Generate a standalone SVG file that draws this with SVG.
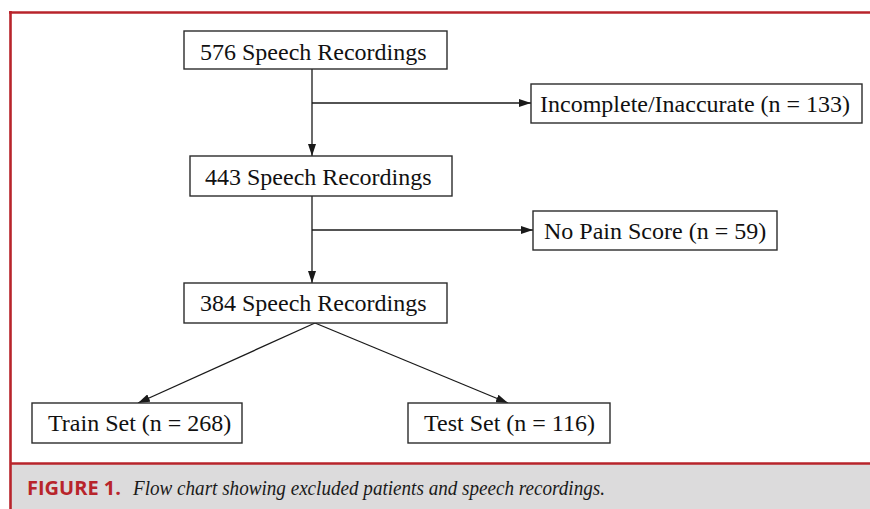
<svg xmlns="http://www.w3.org/2000/svg" width="870" height="509" viewBox="0 0 870 509">
  <style>
    .box { fill: #ffffff; stroke: #2b2b2b; stroke-width: 1.4; }
    .lbl { font-family: "Liberation Serif", "Times New Roman", serif; font-size: 24px; fill: #111111; }
    .conn { fill: none; stroke: #1a1a1a; stroke-width: 1.3; }
    .frame { stroke: #b8242b; stroke-width: 2.6; fill: none; }
  </style>
  <defs>
    <marker id="arrow" viewBox="0 0 12 8" refX="12" refY="4" markerWidth="12" markerHeight="8" markerUnits="userSpaceOnUse" orient="auto">
      <path d="M0,0 L12,4 L0,8 Z" fill="#1a1a1a"/>
    </marker>
  </defs>

  <!-- page background and caption band -->
  <rect x="0" y="0" width="870" height="509" fill="#ffffff"/>
  <rect x="10" y="464" width="860" height="45" fill="#dcdbdc"/>
  <g id="frame">
    <line class="frame" x1="9" y1="12.5" x2="870" y2="12.5"/>
    <line class="frame" x1="10.5" y1="11" x2="10.5" y2="509"/>
    <line class="frame" x1="10" y1="463.5" x2="870" y2="463.5"/>
  </g>

  <!-- connectors -->
  <g id="connectors">
    <line class="conn" x1="312" y1="69" x2="312" y2="156" marker-end="url(#arrow)"/>
    <line class="conn" x1="312" y1="103" x2="531" y2="103" marker-end="url(#arrow)"/>
    <line class="conn" x1="312" y1="196" x2="312" y2="283" marker-end="url(#arrow)"/>
    <line class="conn" x1="312" y1="230" x2="533" y2="230" marker-end="url(#arrow)"/>
    <line class="conn" x1="315" y1="323" x2="138" y2="403" marker-end="url(#arrow)"/>
    <line class="conn" x1="315" y1="323" x2="508" y2="403" marker-end="url(#arrow)"/>
  </g>

  <!-- nodes -->
  <g id="n576">
    <rect class="box" x="184" y="31" width="263" height="38"/>
    <text class="lbl" x="200" y="60">576 Speech Recordings</text>
  </g>
  <g id="excluded-incomplete">
    <rect class="box" x="531" y="84" width="331" height="39"/>
    <text class="lbl" x="540" y="112">Incomplete/Inaccurate (n = 133)</text>
  </g>
  <g id="n443">
    <rect class="box" x="190" y="156" width="262" height="40"/>
    <text class="lbl" x="205" y="185">443 Speech Recordings</text>
  </g>
  <g id="excluded-nopain">
    <rect class="box" x="533" y="211" width="244" height="39"/>
    <text class="lbl" x="544" y="239">No Pain Score (n = 59)</text>
  </g>
  <g id="n384">
    <rect class="box" x="184" y="283" width="263" height="40"/>
    <text class="lbl" x="200" y="311">384 Speech Recordings</text>
  </g>
  <g id="train">
    <rect class="box" x="32" y="403" width="210" height="40"/>
    <text class="lbl" x="48" y="431">Train Set (n = 268)</text>
  </g>
  <g id="test">
    <rect class="box" x="408" y="403" width="202" height="40"/>
    <text class="lbl" x="424" y="431">Test Set (n = 116)</text>
  </g>

  <!-- caption -->
  <g id="caption">
    <text x="27" y="495" font-family="'Open Sans', 'Liberation Sans', sans-serif" font-weight="bold" font-size="19" fill="#b8242b" textLength="94" lengthAdjust="spacingAndGlyphs">FIGURE 1.</text>
    <text x="133" y="495" font-family="'Liberation Serif', 'Times New Roman', serif" font-style="italic" font-size="20" fill="#1a1a1a" textLength="472" lengthAdjust="spacingAndGlyphs">Flow chart showing excluded patients and speech recordings.</text>
  </g>
</svg>
